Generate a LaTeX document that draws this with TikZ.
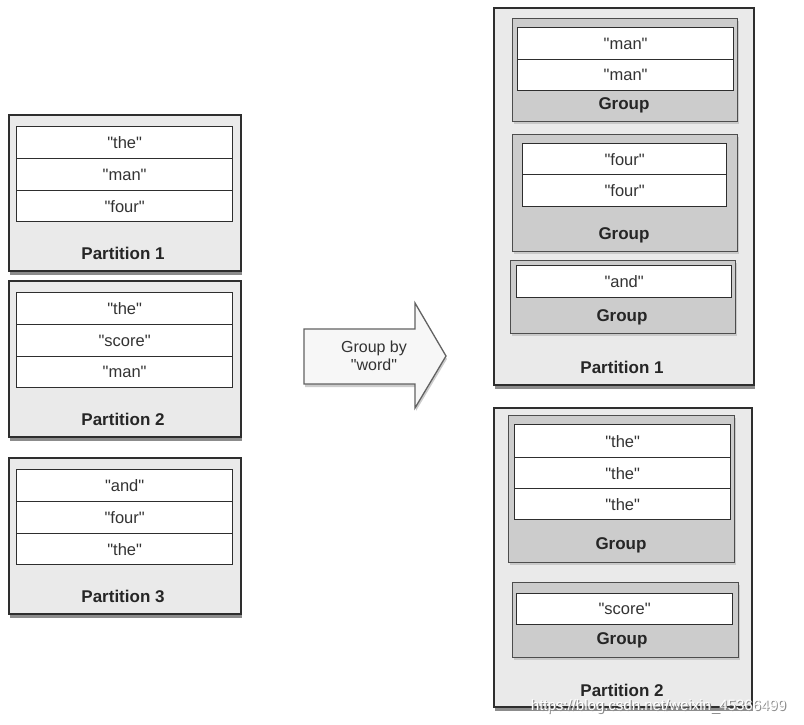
\documentclass[tikz,border=0pt]{standalone}
\usepackage{fontspec}
\setmainfont{Liberation Sans}[Ligatures=TeXOff]
\usetikzlibrary{shadows}
\definecolor{bordc}{HTML}{2E2E2E}
\definecolor{partc}{HTML}{EAEAEA}
\definecolor{grpc}{HTML}{CCCCCC}
\newcommand{\qw}[1]{"#1"}
\begin{document}
\begin{tikzpicture}[x=1pt,y=-1pt,
  every node/.style={font=\fontsize{16.5}{19}\selectfont},
  partbox/.style={draw=bordc, line width=1.6pt, fill=partc, anchor=north west, inner sep=0pt,
    drop shadow={shadow xshift=1.5pt, shadow yshift=-4pt, opacity=0.6, fill=black!75}},
  grpbox/.style={draw=bordc!85, line width=1.4pt, fill=grpc, anchor=north west, inner sep=0pt,
    drop shadow={shadow xshift=1pt, shadow yshift=-2pt, opacity=0.3}},
  rowbox/.style={draw=bordc, line width=1.3pt, fill=white, anchor=north west, inner sep=0pt},
  lbl/.style={font=\fontsize{17}{19}\selectfont\bfseries, text=black!85},
  wtxt/.style={text=black!80}
]
\useasboundingbox (0,0) rectangle (804,724);
\fill[white] (0,0) rectangle (804,724);

% ---------- left partitions ----------
\node[partbox, minimum width=232pt, minimum height=156pt] (lp1) at (8,114) {};
\node[rowbox, minimum width=216pt, minimum height=32pt] (lp1a) at (16,126) {};
\node[rowbox, minimum width=216pt, minimum height=32pt] (lp1b) at (16,158) {};
\node[rowbox, minimum width=216pt, minimum height=31pt] (lp1c) at (16,190) {};
\node[wtxt] at (lp1a.center) {\qw{the}};
\node[wtxt] at (lp1b.center) {\qw{man}};
\node[wtxt] at (lp1c.center) {\qw{four}};
\node[lbl] (lp1l) at (123,253) {Partition 1};

\node[partbox, minimum width=232pt, minimum height=156pt] (lp2) at (8,280) {};
\node[rowbox, minimum width=216pt, minimum height=32pt] (lp2a) at (16,292) {};
\node[rowbox, minimum width=216pt, minimum height=32pt] (lp2b) at (16,324) {};
\node[rowbox, minimum width=216pt, minimum height=31pt] (lp2c) at (16,356) {};
\node[wtxt] at (lp2a.center) {\qw{the}};
\node[wtxt] at (lp2b.center) {\qw{score}};
\node[wtxt] at (lp2c.center) {\qw{man}};
\node[lbl] (lp2l) at (123,419) {Partition 2};

\node[partbox, minimum width=232pt, minimum height=156pt] (lp3) at (8,457) {};
\node[rowbox, minimum width=216pt, minimum height=32pt] (lp3a) at (16,469) {};
\node[rowbox, minimum width=216pt, minimum height=32pt] (lp3b) at (16,501) {};
\node[rowbox, minimum width=216pt, minimum height=31pt] (lp3c) at (16,533) {};
\node[wtxt] at (lp3a.center) {\qw{and}};
\node[wtxt] at (lp3b.center) {\qw{four}};
\node[wtxt] at (lp3c.center) {\qw{the}};
\node[lbl] (lp3l) at (123,596) {Partition 3};

% ---------- arrow ----------
\path[draw=bordc!75, line width=1.3pt, fill=black!3, line join=miter,
  drop shadow={shadow xshift=1pt, shadow yshift=-3pt, opacity=0.4}]
  (304,329) -- (415,329) -- (415,303) -- (446,356) -- (415,408) -- (415,384) -- (304,384) -- cycle;
\node[wtxt, align=center, font=\fontsize{16}{18}\selectfont] (arrtxt) at (374,356) {Group by\\\qw{word}};

% ---------- right partition 1 ----------
\node[partbox, minimum width=260pt, minimum height=377pt] (rp1) at (493,7) {};
\node[grpbox, minimum width=225pt, minimum height=103pt] (g1) at (512,18) {};
\node[rowbox, minimum width=216pt, minimum height=32pt] (g1a) at (517,27) {};
\node[rowbox, minimum width=216pt, minimum height=31pt] (g1b) at (517,59) {};
\node[wtxt] at (g1a.center) {\qw{man}};
\node[wtxt] at (g1b.center) {\qw{man}};
\node[lbl] at (624,105) {Group};

\node[grpbox, minimum width=225pt, minimum height=117pt] (g2) at (512,134) {};
\node[rowbox, minimum width=204pt, minimum height=31pt] (g2a) at (522,143) {};
\node[rowbox, minimum width=204pt, minimum height=32pt] (g2b) at (522,174) {};
\node[wtxt] at (g2a.center) {\qw{four}};
\node[wtxt] at (g2b.center) {\qw{four}};
\node[lbl] at (624,235) {Group};

\node[grpbox, minimum width=225pt, minimum height=73pt] (g3) at (510,260) {};
\node[rowbox, minimum width=215pt, minimum height=32pt] (g3a) at (516,265) {};
\node[wtxt] at (g3a.center) {\qw{and}};
\node[lbl] at (622,317) {Group};
\node[lbl] (rp1l) at (622,367) {Partition 1};

% ---------- right partition 2 ----------
\node[partbox, minimum width=258pt, minimum height=299pt] (rp2) at (493,407) {};
\node[grpbox, minimum width=226pt, minimum height=147pt] (g4) at (508,415) {};
\node[rowbox, minimum width=216pt, minimum height=33pt] (g4a) at (514,424) {};
\node[rowbox, minimum width=216pt, minimum height=31pt] (g4b) at (514,457) {};
\node[rowbox, minimum width=216pt, minimum height=31pt] (g4c) at (514,488) {};
\node[wtxt] at (g4a.center) {\qw{the}};
\node[wtxt] at (g4b.center) {\qw{the}};
\node[wtxt] at (g4c.center) {\qw{the}};
\node[lbl] at (621,545) {Group};

\node[grpbox, minimum width=226pt, minimum height=75pt] (g5) at (512,582) {};
\node[rowbox, minimum width=216pt, minimum height=31pt] (g5a) at (516,593) {};
\node[wtxt] at (g5a.center) {\qw{score}};
\node[lbl] at (622,640) {Group};
\node[lbl] (rp2l) at (622,690) {Partition 2};

% ---------- watermark ----------
\node[text=black!45, font=\fontsize{15}{17}\selectfont] at (659.6,707.6) {https://blog.csdn.net/weixin\_45366499};
\node[text=white, font=\fontsize{15}{17}\selectfont] (wm) at (658.5,706.5) {https://blog.csdn.net/weixin\_45366499};
\end{tikzpicture}
\end{document}
